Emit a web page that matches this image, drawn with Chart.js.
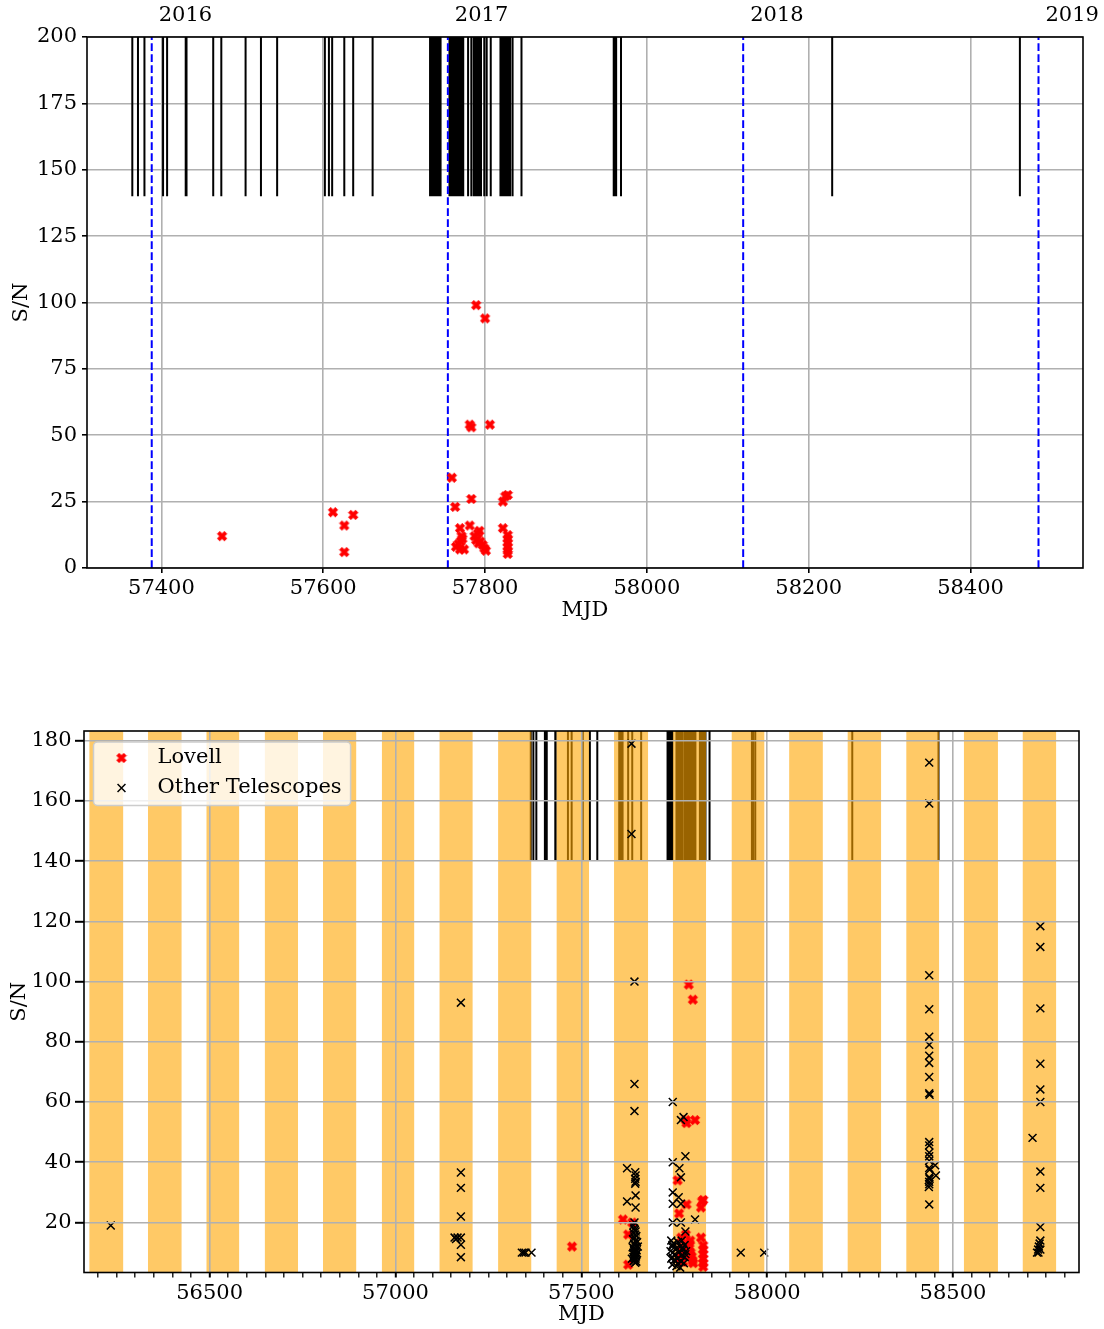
<!DOCTYPE html>
<html>
<head>
<meta charset="utf-8">
<script src="https://cdn.jsdelivr.net/npm/chart.js@4/dist/chart.umd.min.js"></script>
<style>
  html, body { margin: 0; padding: 0; background: #fff; }
  body { width: 1104px; height: 1329px; position: relative; overflow: hidden; }
  .box { position: absolute; left: 0; width: 1104px; }
  #topBox { top: 0; height: 623px; }
  #bottomBox { top: 680px; height: 649px; }
</style>
</head>
<body>
<div class="box" id="topBox"><canvas id="snTime"></canvas></div>
<div class="box" id="bottomBox"><canvas id="snAll"></canvas></div>
<script>
// Lovell detections (MJD, S/N)
const lovellMJD = [57475, 57612, 57626, 57626, 57637, 57759, 57763, 57783, 57769, 57781,
  57793, 57791, 57822, 57825, 57828, 57822, 57828, 57828, 57828, 57828,
  57828, 57828, 57772, 57770, 57764, 57769, 57774, 57767, 57771, 57787,
  57789, 57792, 57797, 57799, 57801, 57794, 57789, 57800, 57781, 57783, 57806];
const lovellSN = [12, 21, 16, 6, 20, 34, 23, 26, 15, 16,
  14, 13, 25, 27, 27.5, 15, 12.4, 11, 9.5, 8,
  6.5, 5.3, 11, 10, 8, 7, 7, 9, 12, 12,
  10.5, 9.3, 8.7, 7.4, 6.5, 10, 99, 94, 54, 53, 54];

// detections by other telescopes
const otherMJD = [56234, 57159, 57163, 57167, 57176, 57176, 57176, 57176, 57176, 57176, 57176,
  57340, 57345, 57350, 57366,
  57635, 57635, 57643, 57643, 57643, 57623, 57645, 57646, 57645, 57646, 57645, 57646, 57623, 57646, 57643,
  57640, 57642, 57644, 57646, 57641, 57645, 57648, 57643, 57639, 57646, 57650, 57642, 57644, 57647,
  57638, 57641, 57645, 57649, 57643, 57646, 57640, 57644, 57648, 57642, 57645, 57647, 57640, 57643,
  57646, 57644, 57641, 57648, 57645, 57642, 57650, 57636, 57652,
  57746, 57768, 57775, 57780, 57746, 57764, 57768, 57746, 57762, 57746, 57768, 57806, 57746, 57768, 57780,
  57742, 57748, 57760, 57770, 57778, 57744, 57756, 57766, 57774, 57782, 57746, 57752, 57762, 57770,
  57778, 57742, 57750, 57758, 57768, 57776, 57745, 57756, 57766, 57772, 57760, 57780, 57740, 57745, 57745,
  57929, 57992,
  58436, 58436, 58436, 58436, 58436, 58436, 58436, 58436, 58436, 58436, 58437, 58436, 58436,
  58436, 58436, 58436, 58452, 58436, 58437, 58454, 58436, 58437, 58436, 58436, 58435, 58436,
  58735, 58735, 58735, 58735, 58735, 58735, 58714, 58735, 58735, 58735, 58735, 58733, 58731, 58729,
  58726, 58730, 58735];
const otherSN = [19, 15, 14.5, 15, 15, 12.6, 8.5, 22, 31.5, 36.6, 93,
  10, 10, 10, 10,
  179, 149, 100, 66, 57, 38, 36.7, 35.6, 34.5, 33.5, 32.9, 29, 27, 25, 20,
  19, 18, 17.5, 17, 16.5, 16, 15.5, 15, 14.5, 14, 13.5, 13, 12.5, 12,
  11.8, 11.5, 11, 10.8, 10.5, 10.2, 10, 9.7, 9.5, 9.2, 9, 8.7, 8.5, 8.2,
  8, 7.5, 7.2, 7, 6.6, 10.8, 9.8, 8, 12,
  60, 54, 55, 42, 40, 38, 35, 30, 28.4, 26.2, 26.2, 21, 20, 20, 17,
  14, 13, 13.5, 14, 12.5, 12, 11.5, 12, 11, 10.5, 10, 9.5, 10, 9,
  8.5, 8, 7.5, 8, 7, 6.5, 6, 5.5, 5, 11.5, 6.5, 9.5, 10.5, 12.5, 8.5,
  10, 10,
  172.7, 159.1, 102.1, 90.8, 81.7, 79, 75.4, 73, 68.3, 62.9, 62.4, 46.7, 45.6,
  43.2, 42, 40.5, 39, 38.1, 37.5, 35.6, 35, 34.5, 33.5, 32.7, 31.8, 26,
  118.4, 111.5, 91.1, 72.7, 64.2, 60, 48.1, 36.9, 31.5, 18.5, 14, 13, 12, 11,
  10, 10, 11];

// Lovell observing epochs (vertical ticks)
const obsMJD = [57364, 57371, 57379, 57402, 57407, 57430, 57431, 57464, 57474, 57504, 57523, 57543,
  57602, 57607, 57611, 57626, 57637, 57661,
  57732, 57733, 57734, 57735, 57736, 57737, 57738, 57739, 57740, 57741, 57742, 57743, 57744, 57745,
  57756, 57757, 57758, 57759, 57760, 57761, 57762, 57763, 57764, 57765, 57766, 57767, 57768, 57769,
  57770, 57771, 57772, 57773,
  57779, 57783, 57786, 57787, 57788, 57789, 57790, 57791, 57792, 57793, 57794, 57795, 57799, 57802, 57807,
  57819, 57820, 57821, 57822, 57823, 57824, 57825, 57826, 57827, 57828, 57829, 57830, 57831, 57834, 57845,
  57959, 57961, 57962, 57968, 58229, 58461];

// year boundaries
const yearMJD = [57388, 57754, 58119, 58484];
const yearLabels = ['2016', '2017', '2018', '2019'];

// visibility windows (orange bands)
const bandStart = [56176, 56334, 56491, 56648, 56805, 56963, 57118, 57276, 57433, 57588,
  57746, 57904, 58059, 58216, 58374, 58529, 58687];
const bandEnd = [56268, 56425, 56580, 56738, 56895, 57051, 57208, 57366, 57521, 57680,
  57836, 57993, 58150, 58307, 58463, 58621, 58778];

// tick values
const topXTicks = [57400, 57600, 57800, 58000, 58200, 58400];
const topYTicks = [0, 25, 50, 75, 100, 125, 150, 175, 200];
const botXMajor = [56500, 57000, 57500, 58000, 58500];
const botYTicks = [20, 40, 60, 80, 100, 120, 140, 160, 180];

const FONT = {family: "'DejaVu Serif'", size: 21};
Chart.defaults.font.family = "'DejaVu Serif'";
Chart.defaults.font.size = 21;
Chart.defaults.color = '#000';
Chart.defaults.animation = false;
Chart.defaults.plugins.legend.display = false;
Chart.defaults.plugins.tooltip.enabled = false;

function xy(xs, ys) {
  return xs.map((x, i) => ({x: x, y: ys[i]}));
}

// segments broken by null points
function vlines(list, y0, y1) {
  const pts = [];
  list.forEach(m => { pts.push({x: m, y: y0}, {x: m, y: y1}, {x: m, y: null}); });
  return pts;
}

function setTicks(values) {
  return s => { s.ticks = values.map(v => ({value: v})); };
}

// filled 'X' marker
function filledX(color) {
  const c = document.createElement('canvas');
  c.width = 12; c.height = 12;
  const g = c.getContext('2d');
  const a = 1.7, L = 5;
  g.translate(6, 6);
  g.rotate(Math.PI / 4);
  g.beginPath();
  g.moveTo(-a, -L); g.lineTo(a, -L); g.lineTo(a, -a); g.lineTo(L, -a); g.lineTo(L, a); g.lineTo(a, a);
  g.lineTo(a, L); g.lineTo(-a, L); g.lineTo(-a, a); g.lineTo(-L, a); g.lineTo(-L, -a); g.lineTo(-a, -a);
  g.closePath();
  g.fillStyle = color; g.fill();
  g.strokeStyle = color; g.lineWidth = 0.8; g.stroke();
  return c;
}
const redX = filledX('#ff0000');

const frame = {
  id: 'frame',
  afterDraw(chart) {
    const {ctx, chartArea: a} = chart;
    ctx.save();
    ctx.strokeStyle = '#000';
    ctx.lineWidth = 1.6;
    ctx.strokeRect(a.left, a.top, a.right - a.left, a.bottom - a.top);
    ctx.restore();
  }
};

const yearText = {
  id: 'yearText',
  afterDraw(chart) {
    const {ctx} = chart;
    const xs = chart.scales.x;
    ctx.save();
    ctx.font = "21px 'DejaVu Serif'";
    ctx.fillStyle = '#000';
    ctx.textAlign = 'left';
    ctx.textBaseline = 'middle';
    yearMJD.forEach((m, i) => ctx.fillText(yearLabels[i], xs.getPixelForValue(m) + 7, 16));
    ctx.restore();
  }
};

const legendBox = {
  id: 'legendBox',
  afterDraw(chart) {
    const {ctx, chartArea: a} = chart;
    const x0 = a.left + 9.5, y0 = a.top + 11;
    ctx.save();
    ctx.font = "21px 'DejaVu Serif'";
    const w = 64 + ctx.measureText('Other Telescopes').width + 9;
    const h = 63.5;
    ctx.beginPath();
    ctx.roundRect(x0, y0, w, h, 4);
    ctx.fillStyle = 'rgba(255,255,255,0.8)';
    ctx.fill();
    ctx.strokeStyle = '#cccccc';
    ctx.lineWidth = 1.5;
    ctx.stroke();
    ctx.drawImage(redX, x0 + 28 - 6, y0 + 16 - 6);
    ctx.strokeStyle = '#000';
    Chart.helpers.drawPoint(ctx, {pointStyle: 'crossRot', radius: 5.6, borderWidth: 1.5, rotation: 0}, x0 + 28, y0 + 46);
    ctx.fillStyle = '#000';
    ctx.textAlign = 'left';
    ctx.textBaseline = 'middle';
    ctx.fillText('Lovell', x0 + 64, y0 + 16);
    ctx.fillText('Other Telescopes', x0 + 64, y0 + 46);
    ctx.restore();
  }
};

// 上图：Lovell 探测随时间
new Chart(document.getElementById('snTime'), {
  type: 'line',
  data: {
    datasets: [
      {data: xy(lovellMJD, lovellSN), showLine: false, pointStyle: redX, pointRadius: 6, order: 0},
      {data: vlines(yearMJD, 0, 200), borderColor: '#0000ff', borderWidth: 2, borderDash: [7.7, 3.3],
        pointRadius: 0, order: 1},
      {data: vlines(obsMJD, 140, 200), borderColor: '#000', borderWidth: 2, pointRadius: 0, order: 2}
    ]
  },
  options: {
    responsive: true,
    maintainAspectRatio: false,
    layout: {padding: {top: 37, right: 21, left: 0, bottom: 0}},
    scales: {
      x: {
        type: 'linear', min: 57308, max: 58539,
        afterBuildTicks: setTicks(topXTicks),
        afterFit: s => { s.height = 55; },
        ticks: {autoSkip: false, maxRotation: 0, padding: 3, font: FONT, callback: v => String(v)},
        grid: {color: '#b0b0b0', lineWidth: 1.6, tickColor: '#000', tickLength: 5, tickWidth: 1.6},
        border: {display: false},
        title: {display: true, text: 'MJD', font: FONT, padding: {top: 0, bottom: 0}}
      },
      y: {
        type: 'linear', min: 0, max: 200,
        afterBuildTicks: setTicks(topYTicks),
        afterFit: s => { s.width = 87; },
        ticks: {padding: 5, font: FONT, callback: v => String(v)},
        grid: {color: '#b0b0b0', lineWidth: 1.6, tickColor: '#000', tickLength: 5, tickWidth: 1.6},
        border: {display: false},
        title: {display: true, text: 'S/N', font: FONT, padding: {top: 9, bottom: 0}}
      }
    }
  },
  plugins: [frame, yearText]
});

// 下图：全部望远镜
const bandSets = bandStart.map((s, i) => ({
  data: [{x: s, y: 200}, {x: bandEnd[i], y: 200}],
  fill: 'start',
  backgroundColor: 'rgba(255,165,0,0.6)',
  borderColor: 'rgba(0,0,0,0)',
  borderWidth: 0,
  pointRadius: 0,
  clip: 0,
  order: 2
}));

new Chart(document.getElementById('snAll'), {
  type: 'line',
  data: {
    datasets: [
      {data: xy(otherMJD, otherSN), showLine: false, pointStyle: 'crossRot', pointRadius: 5.6,
        pointBorderWidth: 1.5, pointBorderColor: '#000', pointBackgroundColor: 'rgba(0,0,0,0)', order: 0},
      {data: xy(lovellMJD, lovellSN), showLine: false, pointStyle: redX, pointRadius: 6, order: 1},
      ...bandSets,
      {data: vlines(obsMJD, 140, 200), borderColor: '#000', borderWidth: 2, pointRadius: 0, clip: 0, order: 3}
    ]
  },
  options: {
    responsive: true,
    maintainAspectRatio: false,
    layout: {padding: {top: 51, right: 25, left: 0, bottom: 0}},
    scales: {
      x: {
        type: 'linear', min: 56162, max: 58839,
        afterBuildTicks: s => {
          // minor ticks every 50 days
          const t = [];
          for (let v = Math.ceil(s.min / 50) * 50; v <= s.max; v += 50) t.push({value: v});
          s.ticks = t;
        },
        afterFit: s => { s.height = 56.5; },
        ticks: {autoSkip: false, maxRotation: 0, padding: 3, font: FONT,
          callback: v => (botXMajor.includes(v) ? String(v) : '')},
        grid: {
          z: 1,
          color: c => (c.tick && botXMajor.includes(c.tick.value) ? '#b0b0b0' : 'rgba(0,0,0,0)'),
          lineWidth: 1.6,
          tickColor: '#000',
          tickLength: 5,
          tickWidth: c => (c.tick && botXMajor.includes(c.tick.value) ? 2 : 1.3)
        },
        border: {display: false},
        title: {display: true, text: 'MJD', font: FONT, padding: {top: 0, bottom: 1.5}}
      },
      y: {
        type: 'linear', min: 3.4, max: 183.2,
        afterBuildTicks: setTicks(botYTicks),
        afterFit: s => { s.width = 84; },
        ticks: {padding: 3.5, font: FONT, callback: v => String(v)},
        grid: {z: 1, color: '#b0b0b0', lineWidth: 1.6, tickColor: '#000', tickLength: 9, tickWidth: 2},
        border: {display: false},
        title: {display: true, text: 'S/N', font: FONT, padding: {top: 7, bottom: 0}}
      }
    }
  },
  plugins: [frame, legendBox]
});
</script>
</body>
</html>
